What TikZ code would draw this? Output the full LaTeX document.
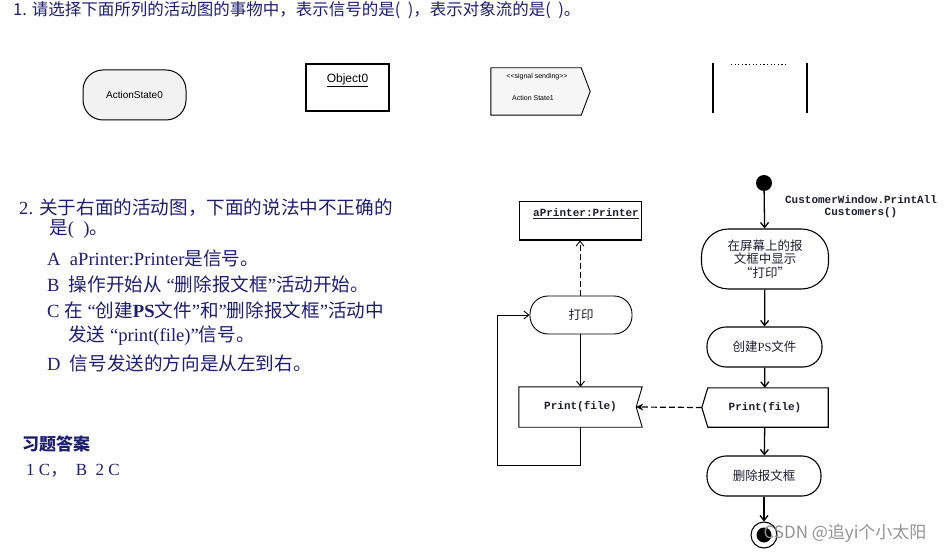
\documentclass[tikz,border=0pt]{standalone}
\usepackage{fontspec}
\setmainfont{Liberation Serif}
\newfontfamily\cjk{Noto Sans CJK SC}
\newfontfamily\mono{Liberation Mono}
\newfontfamily\sanf{Liberation Sans}
\usetikzlibrary{arrows.meta}
\definecolor{navy}{RGB}{30,30,110}
\definecolor{ink}{RGB}{30,30,50}
\tikzset{
  qtext/.style={anchor=west, text=navy, inner sep=0pt, font=\fontsize{18.6}{22}\selectfont},
  stadium/.style={draw, line width=1.1pt, rounded corners=#1, inner sep=0pt, text=ink},
  plainbox/.style={inner sep=0pt},
  flow/.style={line width=1.3pt, -{Straight Barb[length=5pt,width=8pt]}},
  thinflow/.style={line width=0.9pt, -{Straight Barb[length=5pt,width=8pt]}},
  dashflow/.style={line width=0.9pt, dash pattern=on 6pt off 3pt},
  monotext/.style={font=\mono\bfseries\fontsize{11}{12}\selectfont, text=ink},
  cjksmall/.style={font=\cjk\fontsize{12.5}{13.5}\selectfont, text=ink},
}
\begin{document}
\begin{tikzpicture}[x=1pt,y=-1pt]
\useasboundingbox[fill=white] (0,0) rectangle (952,553);

% ---------- question 1 ----------
\node[anchor=west, text=navy, inner sep=0pt, font=\cjk\fontsize{16.5}{19}\selectfont] (q1) at (13,10)
  {1. 请选择下面所列的活动图的事物中，表示信号的是(\ \ )，表示对象流的是(\ \ )。};

% ActionState0
\node[stadium=20pt, line width=1pt, fill=gray!10, minimum width=103pt, minimum height=50pt,
      font=\sanf\fontsize{10}{12}\selectfont, text=black] (as0) at (134.5,95) {ActionState0};
% Object0
\node[draw, line width=1.6pt, minimum width=83pt, minimum height=47pt, inner sep=0pt] (obj0) at (347.5,87.5) {};
\node[inner sep=0pt, font=\sanf\fontsize{12}{14}\selectfont] (obj0t) at (347.5,80) {\underline{Object0}};
% signal sending
\node[plainbox, minimum width=90pt, minimum height=47pt] (sig) at (536,91.5) {};
\draw[line width=0.9pt, fill=gray!6] (sig.north west) -- (sig.north east) -- ([xshift=9pt]sig.east) -- (sig.south east) -- (sig.south west) -- cycle;
\node[inner sep=0pt, font=\sanf\fontsize{7}{8}\selectfont] (sigt1) at (537,77) {<<signal sending>>};
\node[inner sep=0pt, font=\sanf\fontsize{7}{8}\selectfont] (sigt2) at (533,98) {Action State1};
% swimlane
\draw[line width=1.4pt] (713,63) -- (713,113);
\draw[line width=1.4pt] (807,63) -- (807,113);
\draw[line width=0.8pt, dash pattern=on 1.2pt off 2.4pt] (731,64) -- (786,64);

% ---------- question 2 ----------
\node[qtext] (q2a) at (19,208) {2. {\cjk 关于右面的活动图，下面的说法中不正确的}};
\node[qtext] (q2b) at (49,229) {{\cjk 是}(\ \ ){\cjk 。}};
\node[qtext] (q2c) at (47,258) {A\ \ aPrinter:Printer{\cjk 是信号。}};
\node[qtext] (q2d) at (47,284) {B\ \ {\cjk 操作开始从} “{\cjk 删除报文框}”{\cjk 活动开始。}};
\node[qtext] (q2e) at (47,310) {C {\cjk 在} “{\cjk 创建}\textbf{PS}{\cjk 文件}”{\cjk 和}”{\cjk 删除报文框}”{\cjk 活动中}};
\node[qtext] (q2f) at (68,336) {{\cjk 发送} “print(file)”{\cjk 信号。}};
\node[qtext] (q2g) at (47,363) {D\ \ {\cjk 信号发送的方向是从左到右。}};

% answers
\node[qtext, font=\cjk\bfseries\fontsize{17}{20}\selectfont] (ans1) at (22,444) {习题答案};
\node[qtext, font=\fontsize{17}{20}\selectfont] (ans2) at (26,471) {1 C{\cjk ，}\ \ B\ \ 2 C};

% ---------- activity diagram ----------
\node[circle, fill=black, minimum size=16pt, inner sep=0pt] (init) at (764,183) {};
\node[monotext, align=center, inner sep=0pt] (lbl) at (861,207) {CustomerWindow.PrintAll\\Customers()};

\node[stadium=27pt, minimum width=127pt, minimum height=60pt, align=center, cjksmall] (a1) at (765,259)
  {在屏幕上的报\\文框中显示\\“打印”};
\node[stadium=19pt, minimum width=115pt, minimum height=40pt, cjksmall] (a2) at (764.5,347)
  {创建\textrm{PS}文件};
\node[plainbox, minimum width=126pt, minimum height=39pt, monotext] (rp) at (765,407.5) {Print(file)};
\draw[line width=1.1pt] ([xshift=6pt]rp.north west) -- (rp.north east) -- (rp.south east) -- ([xshift=6pt]rp.south west) -- (rp.west) -- cycle;
\node[stadium=19pt, minimum width=114pt, minimum height=40pt, cjksmall] (a3) at (764,476) {删除报文框};
\node[circle, draw, line width=1.1pt, minimum size=26pt, inner sep=0pt] (fin) at (764,535) {};
\node[circle, fill=black, minimum size=15pt, inner sep=0pt] (finin) at (764,535) {};

\draw[flow] (init) -- (a1);
\draw[flow] (a1) -- (a2);
\draw[flow] (a2) -- (rp);
\draw[flow] (rp) -- (a3);
\draw[flow] (a3) -- (fin);

% left part
\node[draw, line width=0.9pt, minimum width=122pt, minimum height=39pt, inner sep=0pt] (ap) at (580,220.5) {};
\draw[line width=2pt] (ap.south west) -- (ap.south east);
\node[monotext, inner sep=0pt] (apt) at (586,214) {\underline{aPrinter:Printer}};

\node[stadium=18pt, line width=0.9pt, minimum width=102pt, minimum height=38pt, cjksmall] (p1) at (581,315) {打印};
\node[plainbox, minimum width=123pt, minimum height=40pt, monotext] (lp) at (580.5,407) {Print(file)};
\draw[line width=0.9pt] (lp.north west) -- (lp.north east) -- ([xshift=-6pt]lp.east) -- (lp.south east) -- (lp.south west) -- cycle;
\coordinate (lpn) at ([xshift=-6pt]lp.east);
\coordinate (lb) at (497,465);

\draw[dashflow, -{Straight Barb[length=5pt,width=8pt]}] (p1.north -| ap.south) -- (ap.south);
\draw[thinflow] (p1.south -| lp.north) -- (lp.north);
\draw[dashflow, line width=1.2pt, -{Stealth[length=7pt,width=7pt]}] (rp.west) -- (lpn);
\draw[thinflow] (lp.south) |- (lb) |- (p1.west);

% watermark
\node[inner sep=0pt, text=gray!85, font=\cjk\fontsize{17}{20}\selectfont] (wm) at (845,533) {CSDN @追yi个小太阳};
\end{tikzpicture}
\end{document}
